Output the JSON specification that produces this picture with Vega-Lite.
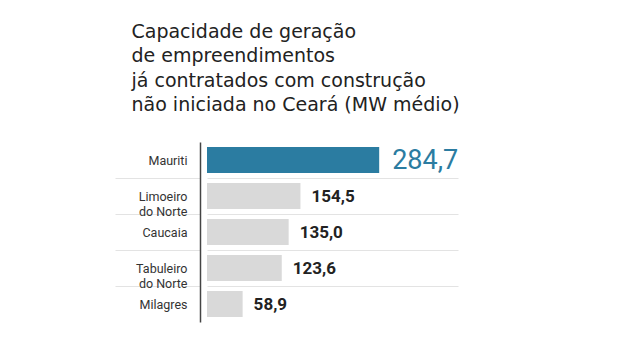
{
  "$schema": "https://vega.github.io/schema/vega-lite/v6.json",
  "width": 251,
  "height": 180,
  "padding": {"left": 114, "top": 22, "right": 10, "bottom": 10},
  "background": "white",
  "title": {
    "text": ["Capacidade de geração", "de empreendimentos", "já contratados com construção", "não iniciada no Ceará (MW médio)"],
    "anchor": "start",
    "frame": "bounds",
    "dx": 17,
    "font": "DejaVu Sans",
    "fontSize": 19,
    "fontWeight": "normal",
    "lineHeight": 24.5,
    "color": "#222222",
    "offset": 21
  },
  "config": {"view": {"stroke": null}},
  "data": {
    "values": [
      {"cidade": "Mauriti", "mw": 284.7, "rotulo": "284,7", "destaque": true},
      {"cidade": "Limoeiro do Norte", "mw": 154.5, "rotulo": "154,5", "destaque": false},
      {"cidade": "Caucaia", "mw": 135.0, "rotulo": "135,0", "destaque": false},
      {"cidade": "Tabuleiro do Norte", "mw": 123.6, "rotulo": "123,6", "destaque": false},
      {"cidade": "Milagres", "mw": 58.9, "rotulo": "58,9", "destaque": false}
    ]
  },
  "encoding": {
    "y": {
      "field": "cidade",
      "type": "nominal",
      "sort": null,
      "scale": {"paddingInner": 0, "paddingOuter": 0},
      "axis": {
        "title": null,
        "offset": 7,
        "domainColor": "#444444",
        "domainWidth": 1.5,
        "tickBand": "extent",
        "tickSize": 85,
        "tickColor": "#e3e3e3",
        "tickOpacity": {"condition": {"test": "datum.index >= 0 && datum.index < 1", "value": 1}, "value": 0},
        "grid": true,
        "gridColor": "#e3e3e3",
        "gridOpacity": {"condition": {"test": "datum.index >= 0 && datum.index < 1", "value": 1}, "value": 0},
        "labelPadding": -72,
        "labelFont": "Roboto",
        "labelFontSize": 12.5,
        "labelColor": "#333333",
        "labelLineHeight": 15,
        "labelExpr": "indexof(datum.label, ' do Norte') > 0 ? [replace(datum.label, ' do Norte', ''), 'do Norte'] : datum.label"
      }
    },
    "x": {
      "field": "mw",
      "type": "quantitative",
      "scale": {"domain": [0, 415]},
      "axis": null
    }
  },
  "layer": [
    {
      "mark": {"type": "bar", "height": {"band": 0.72}},
      "encoding": {
        "color": {
          "field": "destaque",
          "type": "nominal",
          "scale": {"domain": [true, false], "range": ["#2b7ca1", "#d9d9d9"]},
          "legend": null
        }
      }
    },
    {
      "transform": [{"filter": "datum.destaque"}],
      "mark": {"type": "text", "align": "left", "baseline": "middle", "dx": 13, "dy": 1, "font": "Roboto", "fontSize": 27, "color": "#2b7ca1"},
      "encoding": {"text": {"field": "rotulo"}}
    },
    {
      "transform": [{"filter": "!datum.destaque"}],
      "mark": {"type": "text", "align": "left", "baseline": "middle", "dx": 11, "dy": 1, "font": "Roboto", "fontWeight": "bold", "fontSize": 17, "color": "#222222"},
      "encoding": {"text": {"field": "rotulo"}}
    }
  ]
}
